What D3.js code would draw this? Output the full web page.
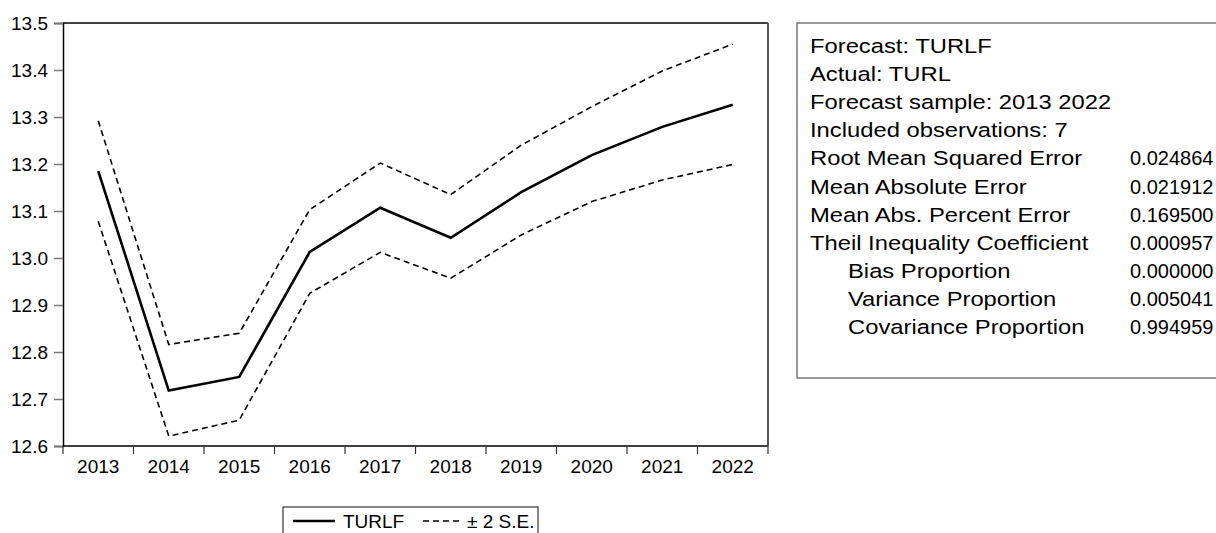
<!DOCTYPE html>
<html><head><meta charset="utf-8">
<script src="https://cdn.jsdelivr.net/npm/d3@7"></script>
<style>
html,body{margin:0;padding:0;background:#fff;}
text{font-family:"Liberation Sans",Arial,sans-serif;fill:#000;}
</style></head>
<body><svg id="c" width="1216" height="533"></svg>
<script>
const years = ["2013","2014","2015","2016","2017","2018","2019","2020","2021","2022"];
const forecast = [13.185,12.718,12.747,13.013,13.107,13.043,13.140,13.219,13.279,13.326];
const upper = [13.292,12.816,12.840,13.103,13.202,13.135,13.240,13.322,13.398,13.455];
const lower = [13.078,12.621,12.655,12.925,13.012,12.957,13.049,13.120,13.166,13.199];
const yTicks = [12.6,12.7,12.8,12.9,13.0,13.1,13.2,13.3,13.4,13.5];
const statLabels = ["Forecast: TURLF","Actual: TURL","Forecast sample: 2013 2022","Included observations: 7",
  "Root Mean Squared Error","Mean Absolute Error","Mean Abs. Percent Error","Theil Inequality Coefficient",
  "Bias Proportion","Variance Proportion","Covariance Proportion"];
const statValues = ["","","","","0.024864","0.021912","0.169500","0.000957","0.000000","0.005041","0.994959"];
const statIndent = [0,0,0,0,0,0,0,0,1,1,1];
const legendNames = ["TURLF","± 2 S.E."];

const svg = d3.select("#c");
const L=63,R=768,T=23,B=446;
const x = d3.scaleBand().domain(years).range([L,R]);
const y = d3.scaleLinear().domain([12.6,13.5]).range([B,T]);
const FS = 19;

// y axis
const ya = svg.append("g").attr("transform",`translate(${L},0)`)
  .call(d3.axisLeft(y).tickValues(yTicks).tickSize(9).tickPadding(6).tickFormat(d3.format(".1f")));
ya.select(".domain").attr("stroke","#000").attr("stroke-width",1.5);
ya.selectAll(".tick line").attr("stroke","#777").attr("stroke-width",1.5);
ya.selectAll(".tick text").attr("font-size",FS).attr("font-family","Liberation Sans").attr("fill","#000");

// x axis baseline and ticks at band edges
svg.append("line").attr("x1",L).attr("x2",R).attr("y1",B).attr("y2",B).attr("stroke","#000").attr("stroke-width",1.5);
const edges = years.map(d=>x(d)).concat([R]);
svg.selectAll(".xt").data(edges).enter().append("line")
  .attr("x1",d=>d).attr("x2",d=>d).attr("y1",B).attr("y2",B+8).attr("stroke","#333").attr("stroke-width",1.2);
svg.selectAll(".xl").data(years).enter().append("text")
  .attr("x",d=>x(d)+x.bandwidth()/2).attr("y",B+27).attr("text-anchor","middle").attr("font-size",FS).text(d=>d);

// frame top & right
svg.append("line").attr("x1",L).attr("x2",R).attr("y1",T).attr("y2",T).attr("stroke","#000").attr("stroke-width",1.5);
svg.append("line").attr("x1",R).attr("x2",R).attr("y1",T).attr("y2",B).attr("stroke","#555").attr("stroke-width",2);

// lines
const line = d3.line().x((d,i)=>x(years[i])+x.bandwidth()/2).y(d=>y(d));
svg.append("path").datum(upper).attr("d",line).attr("fill","none").attr("stroke","#000").attr("stroke-width",1.6).attr("stroke-dasharray","6,4");
svg.append("path").datum(lower).attr("d",line).attr("fill","none").attr("stroke","#000").attr("stroke-width",1.6).attr("stroke-dasharray","6,4");
svg.append("path").datum(forecast).attr("d",line).attr("fill","none").attr("stroke","#000").attr("stroke-width",2.6);

// stats box
svg.append("rect").attr("x",797).attr("y",23).attr("width",440).attr("height",355).attr("fill","#fff").attr("stroke","#555").attr("stroke-width",1.2);
const rows = svg.append("g");
statLabels.forEach((s,i)=>{
  const by = 53+i*28.1;
  rows.append("text").attr("transform",`translate(${810+statIndent[i]*38},${by}) scale(1.16,1)`).attr("font-size",20.5).text(s);
  if(statValues[i]) rows.append("text").attr("x",1130).attr("y",by).attr("font-size",20).text(statValues[i]);
});

// legend
svg.append("rect").attr("x",283).attr("y",507).attr("width",255).attr("height",40).attr("fill","#fff").attr("stroke","#333").attr("stroke-width",1.2);
svg.append("line").attr("x1",293).attr("x2",335).attr("y1",521).attr("y2",521).attr("stroke","#000").attr("stroke-width",2.6);
svg.append("text").attr("x",343).attr("y",528).attr("font-size",FS).text(legendNames[0]);
svg.append("line").attr("x1",423).attr("x2",463).attr("y1",521).attr("y2",521).attr("stroke","#000").attr("stroke-width",1.6).attr("stroke-dasharray","6,4");
svg.append("text").attr("x",467).attr("y",528).attr("font-size",FS).text(legendNames[1]);
</script></body></html>
